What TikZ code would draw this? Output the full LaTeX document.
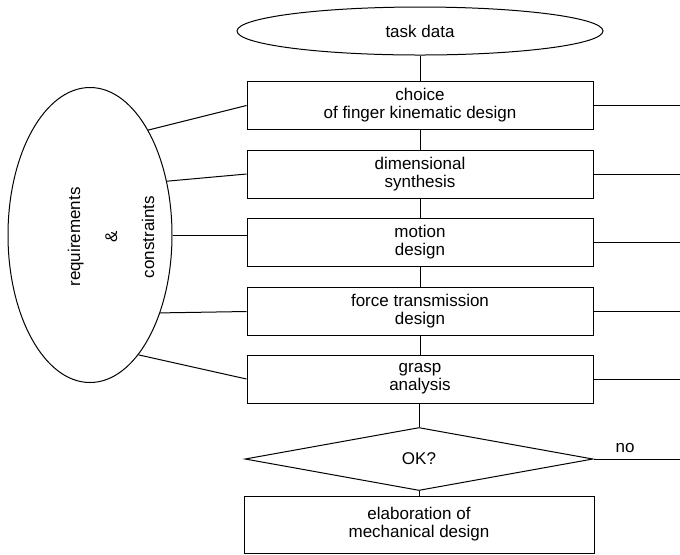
\documentclass[tikz,border=0pt]{standalone}
\usepackage{fontspec}
\setmainfont{Liberation Sans}
\usetikzlibrary{shapes.geometric}

\begin{document}
\begin{tikzpicture}[x=0.5pt, y=-0.5pt, line width=0.5pt,
    every node/.style={font=\fontsize{8.5}{9}\selectfont},
    stepbox/.style={draw, rectangle, minimum width=173pt, minimum height=24pt, inner sep=0pt, align=center},
    dataell/.style={draw, ellipse, minimum width=183pt, minimum height=24pt, inner sep=0pt},
    reqell/.style={draw, ellipse, minimum width=82pt, minimum height=147.5pt, inner sep=0pt},
    okdia/.style={draw, diamond, aspect=5.5, minimum width=174pt, minimum height=31.5pt, inner sep=0pt}]

    % Frame
    \useasboundingbox (0, 0) rectangle (680, 554);
    \coordinate (rend) at (680, 0);

    % Input
    \node[dataell] (task) at (420, 31) {task data};

    % Design steps
    \node[stepbox] (s1) at (420, 105.5) {choice\\of finger kinematic design};
    \node[stepbox] (s2) at (420, 174) {dimensional\\synthesis};
    \node[stepbox] (s3) at (420, 242) {motion\\design};
    \node[stepbox] (s4) at (420, 311.5) {force transmission\\design};
    \node[stepbox] (s5) at (420, 379) {grasp\\analysis};

    % Check and result
    \node[okdia] (ok) at (419, 459) {OK?};
    \node[stepbox, minimum width=175pt, minimum height=28.5pt] (elab) at (419, 524.5) {elaboration of\\mechanical design};
    \node (no) at (625, 448) {no};

    % Requirements
    \node[reqell] (req) at (90, 235) {};
    \node[rotate=90, align=center, font=\fontsize{8.5}{18.5}\selectfont] (reqtxt) at (111, 237) {requirements\\\&\\constraints};

    % Main flow
    \draw (task) -- (s1);
    \foreach \i/\j in {1/2, 2/3, 3/4, 4/5}
        \draw (s\i) -- (s\j);
    \draw (s5.south -| ok.north) -- (ok.north);
    \draw (ok) -- (elab);

    % Links to requirements
    \foreach \i/\a in {1/61, 2/35, 4/-48, 5/-68}
        \draw (req.\a) -- (s\i.west);
    \draw (req.0) -- (req.0 -| s3.west);

    % Feedback lines
    \foreach \i in {1, 2, 3, 4, 5}
        \draw (s\i.east) -- (s\i.east -| rend);
    \draw (ok.east) -- (ok.east -| rend);

\end{tikzpicture}
\end{document}
